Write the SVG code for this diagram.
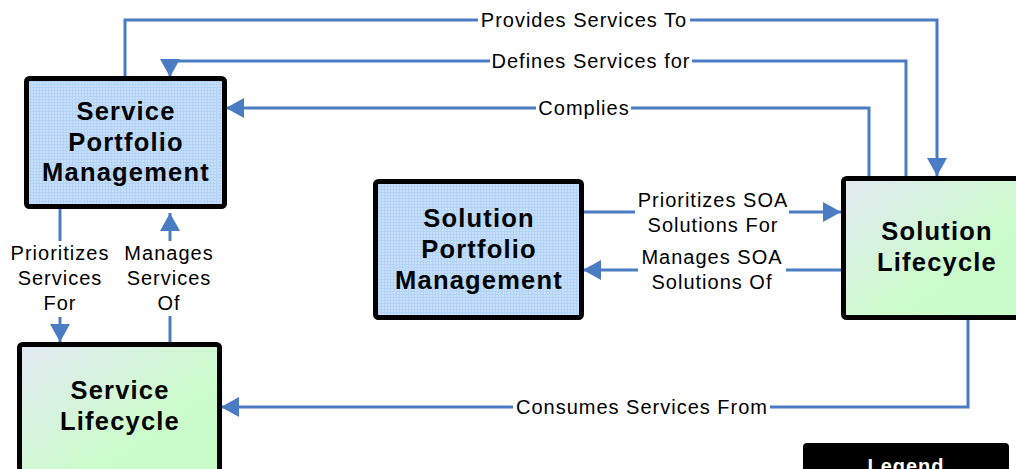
<svg xmlns="http://www.w3.org/2000/svg" width="1016" height="469" viewBox="0 0 1016 469">
<defs>
<pattern id="grid" width="3" height="3" patternUnits="userSpaceOnUse">
<rect width="3" height="3" fill="#c6e1fe"/>
<path d="M0,0.5 H3 M0.5,0 V3" stroke="#b3d2f6" stroke-width="1"/>
</pattern>
<linearGradient id="green" x1="0" y1="0" x2="1" y2="1">
<stop offset="0" stop-color="#e3e9f3"/>
<stop offset="0.6" stop-color="#ccfbcc"/>
<stop offset="1" stop-color="#c8fcc8"/>
</linearGradient>
<marker id="arr" viewBox="0 0 18 20" refX="18" refY="10" markerWidth="18" markerHeight="20" markerUnits="userSpaceOnUse" orient="auto">
<path d="M0,0 L18,10 L0,20 z" fill="#4a7cc4"/>
</marker>
<style>
.box{stroke:#000;stroke-width:5}
.blue{fill:url(#grid)}
.green{fill:url(#green)}
.nt{font-family:"Liberation Sans",Arial,sans-serif;font-weight:bold;font-size:25.5px;letter-spacing:1.2px;text-anchor:middle;fill:#000}
.conn{fill:none;stroke:#4a7cc4;stroke-width:3;marker-end:url(#arr)}
.lbg{fill:#fff}
.lt{font-family:"Liberation Sans",Arial,sans-serif;font-size:20px;letter-spacing:1px;text-anchor:middle;fill:#000}
</style>
</defs>
<rect width="1016" height="469" fill="#fff"/>
<g id="connectors">
<path class="conn" d="M125,76 V20 H937 V176"/>
<path class="conn" d="M906,176 V61 H170 V77"/>
<path class="conn" d="M869,176 V108 H226"/>
<path class="conn" d="M584,212 H841"/>
<path class="conn" d="M841,270 H583"/>
<path class="conn" d="M60,209 V342"/>
<path class="conn" d="M170,342 V213"/>
<path class="conn" d="M968,320 V407 H221"/>
<rect class="lbg" x="478" y="8" width="212" height="24"/>
<rect class="lbg" x="490" y="49" width="202" height="24"/>
<rect class="lbg" x="536" y="96" width="95" height="24"/>
<rect class="lbg" x="513" y="395" width="257" height="24"/>
<rect class="lbg" x="635" y="188" width="154" height="52"/>
<rect class="lbg" x="638" y="245" width="148" height="50"/>
<rect class="lbg" x="8" y="241" width="104" height="76"/>
<rect class="lbg" x="120" y="241" width="100" height="75"/>
<text class="lt" x="584" y="27">Provides Services To</text>
<text class="lt" x="591" y="68">Defines Services for</text>
<text class="lt" x="584" y="115">Complies</text>
<text class="lt" x="642" y="414">Consumes Services From</text>
<text class="lt" x="713" y="207">Prioritizes SOA</text>
<text class="lt" x="713" y="232">Solutions For</text>
<text class="lt" x="712" y="264">Manages SOA</text>
<text class="lt" x="712" y="289">Solutions Of</text>
<text class="lt" x="60" y="260">Prioritizes</text>
<text class="lt" x="60" y="285">Services</text>
<text class="lt" x="60" y="310">For</text>
<text class="lt" x="169" y="260">Manages</text>
<text class="lt" x="169" y="285">Services</text>
<text class="lt" x="169" y="310">Of</text>
</g>
<g id="service-portfolio-management">
<rect class="box blue" x="26.5" y="78.5" width="198" height="128" rx="3"/>
<text class="nt" x="126" y="120">Service</text>
<text class="nt" x="126" y="151">Portfolio</text>
<text class="nt" x="126" y="181">Management</text>
</g>
<g id="solution-portfolio-management">
<rect class="box blue" x="375.5" y="181.5" width="206" height="136" rx="3"/>
<text class="nt" x="479" y="227">Solution</text>
<text class="nt" x="479" y="258">Portfolio</text>
<text class="nt" x="479" y="289">Management</text>
</g>
<g id="solution-lifecycle">
<rect class="box green" x="843.5" y="178.5" width="185" height="139" rx="3"/>
<text class="nt" x="937" y="240">Solution</text>
<text class="nt" x="937" y="271">Lifecycle</text>
</g>
<g id="service-lifecycle">
<rect class="box green" x="19.5" y="344.5" width="200" height="140" rx="3"/>
<text class="nt" x="120" y="399">Service</text>
<text class="nt" x="120" y="430">Lifecycle</text>
</g>
<g id="legend">
<rect x="803" y="443" width="206" height="60" rx="4" fill="#000"/>
<text x="906" y="473" font-family="Liberation Sans, Arial, sans-serif" font-weight="bold" font-size="20" letter-spacing="1" text-anchor="middle" fill="#fff">Legend</text>
</g>
</svg>
